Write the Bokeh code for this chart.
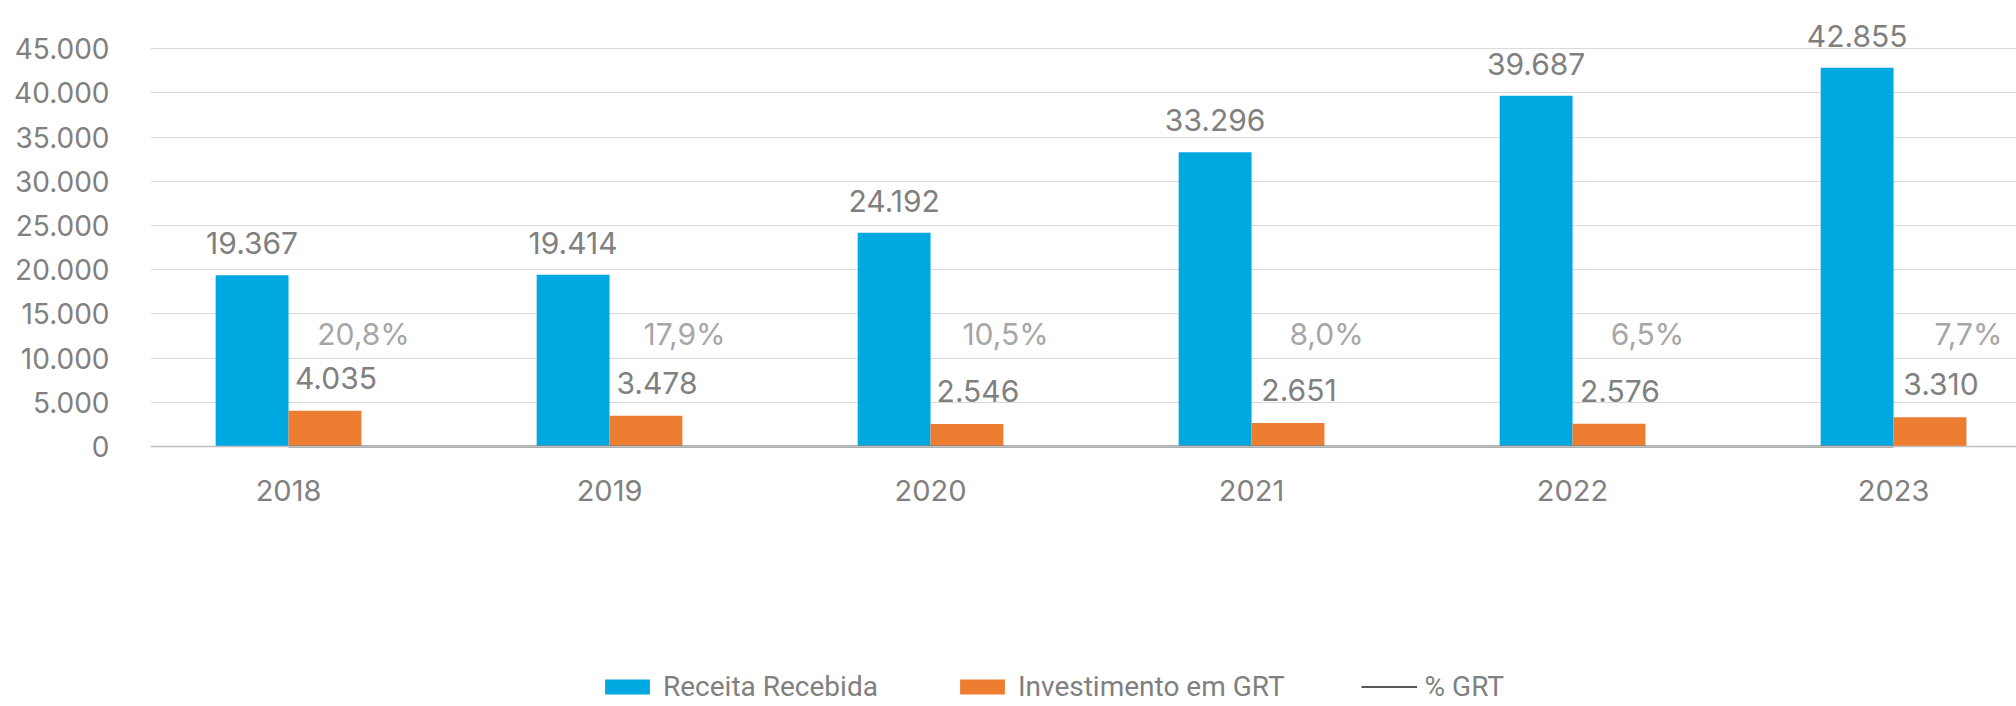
from bokeh.plotting import figure
from bokeh.models import (ColumnDataSource, FixedTicker, Legend, LegendItem,
                          Range1d, Span)
from bokeh.transform import dodge
from bokeh.core.properties import value
from bokeh.embed import file_html
from bokeh.resources import INLINE

# ---- data ----
years = ["2018", "2019", "2020", "2021", "2022", "2023"]
receita_recebida = [19367, 19414, 24192, 33296, 39687, 42855]
investimento_grt = [4035, 3478, 2546, 2651, 2576, 3310]
pct_grt = [20.8, 17.9, 10.5, 8.0, 6.5, 7.7]
y_ticks = [0, 5000, 10000, 15000, 20000, 25000, 30000, 35000, 40000, 45000]
y_tick_labels = ["0", "5.000", "10.000", "15.000", "20.000", "25.000",
                 "30.000", "35.000", "40.000", "45.000"]
series_names = ["Receita Recebida", "Investimento em GRT", "% GRT"]


def fmt_thousands(v):
    return f"{v:,}".replace(",", ".")


def fmt_pct(v):
    return f"{v:.1f}%".replace(".", ",")


idx = list(range(len(years)))
src = ColumnDataSource(dict(
    x=idx,
    year=years,
    base=[0] * len(years),
    receita=receita_recebida,
    inv=investimento_grt,
    pct=[v / 100 for v in pct_grt],
    receita_lbl=[fmt_thousands(v) for v in receita_recebida],
    inv_lbl=[fmt_thousands(v) for v in investimento_grt],
    pct_lbl=[fmt_pct(v) for v in pct_grt],
))

BLUE = "#00A8E1"
ORANGE = "#ED7D31"
TXT = "#808080"
PCT_TXT = "#A6A6A6"
FONT = "Inter"
BW = 0.227

p = figure(width=2016, height=706, output_backend="svg", toolbar_location=None,
           x_range=Range1d(-0.43, 5.383), y_range=Range1d(-29412, 49320),
           min_border_left=150, min_border_right=0, min_border_top=10,
           min_border_bottom=0, background_fill_color="white",
           border_fill_color="white")
p.outline_line_color = None

# x axis: hidden, baseline drawn as a span, year labels as text
p.xaxis.visible = False
p.xgrid.visible = False

p.yaxis.ticker = FixedTicker(ticks=y_ticks)
p.yaxis.major_label_overrides = {t: l for t, l in zip(y_ticks, y_tick_labels)}
p.yaxis.axis_line_color = None
p.yaxis.major_tick_line_color = None
p.yaxis.minor_tick_line_color = None
p.yaxis.major_tick_out = 0
p.yaxis.major_tick_in = 0
p.yaxis.major_label_standoff = 41
p.yaxis.major_label_text_font = FONT
p.yaxis.major_label_text_font_size = "28px"
p.yaxis.major_label_text_color = TXT

p.ygrid.ticker = FixedTicker(ticks=y_ticks[1:])
p.ygrid.grid_line_color = "#D9D9D9"
p.ygrid.grid_line_width = 1

p.add_layout(Span(location=0, dimension="width", line_color="#BFBFBF",
                  line_width=1.5))

# bars
r1 = p.vbar(x=dodge("x", -BW / 2), top="receita", width=BW, source=src,
            fill_color=BLUE, line_color=None)
r2 = p.vbar(x=dodge("x", BW / 2), top="inv", width=BW, source=src,
            fill_color=ORANGE, line_color=None)
r3 = p.line(x="x", y="pct", source=src, line_color="#595959", line_width=2)

# category labels under the baseline
p.text(x="x", y="base", text="year", source=src, text_align="center",
       text_baseline="middle", y_offset=44, text_font=value(FONT),
       text_font_size="29px", text_color=TXT)

# data labels
p.text(x=dodge("x", -BW / 2), y="receita", text="receita_lbl", source=src,
       text_align="center", text_baseline="alphabetic", y_offset=-32,
       text_font=value(FONT), text_font_size="30px", text_color=TXT)
p.text(x=dodge("x", BW / 2), y="inv", text="inv_lbl", source=src,
       text_align="center", text_baseline="alphabetic", x_offset=11, y_offset=-33,
       text_font=value(FONT), text_font_size="30px", text_color=TXT)
p.text(x="x", y="pct", text="pct_lbl", source=src,
       text_align="center", text_baseline="alphabetic", x_offset=75, y_offset=-112,
       text_font=value(FONT), text_font_size="30px", text_color=PCT_TXT)

legend = Legend(items=[LegendItem(label=series_names[0], renderers=[r1]),
                       LegendItem(label=series_names[1], renderers=[r2]),
                       LegendItem(label=series_names[2], renderers=[r3])],
                orientation="horizontal", location=(449, 3),
                border_line_color=None, background_fill_alpha=0,
                padding=0, margin=0, spacing=76, label_standoff=8,
                glyph_width=56, glyph_height=19,
                label_text_font="Roboto", label_text_font_size="28px",
                label_text_color=TXT)
p.add_layout(legend)

open("out.html", "w").write(file_html(p, INLINE))
